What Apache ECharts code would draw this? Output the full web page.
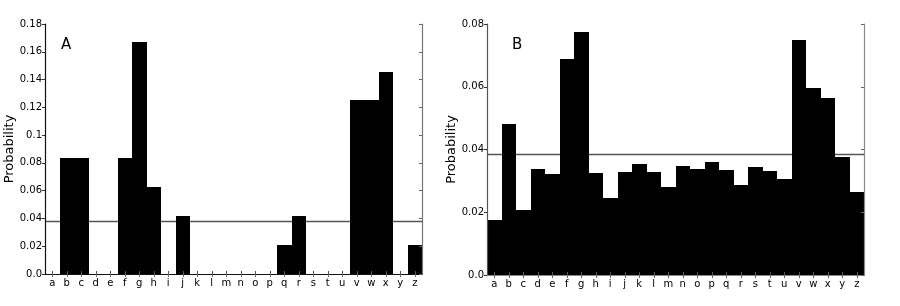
<!DOCTYPE html>
<html>
<head>
<meta charset="utf-8">
<script src="https://cdn.jsdelivr.net/npm/echarts@6/dist/echarts.min.js"></script>
<style>html,body{margin:0;padding:0;background:#fff}#c{width:900px;height:306px}</style>
</head>
<body>
<div id="c"></div>
<script>
const letters = 'abcdefghijklmnopqrstuvwxyz'.split('');
const valuesA = [0, 0.0833, 0.0833, 0, 0, 0.0833, 0.1667, 0.0625, 0, 0.0417, 0, 0, 0, 0, 0, 0, 0.0208, 0.0417, 0, 0, 0, 0.125, 0.125, 0.1458, 0, 0.0208];
const valuesB = [0.0175, 0.0480, 0.0206, 0.0338, 0.0323, 0.0688, 0.0776, 0.0326, 0.0244, 0.0329, 0.0354, 0.0329, 0.0281, 0.0348, 0.0338, 0.0360, 0.0334, 0.0286, 0.0344, 0.0332, 0.0307, 0.0748, 0.0596, 0.0565, 0.0375, 0.0265];
const uniformLevel = 1 / 26;
const yMaxA = 0.18, yMaxB = 0.08, yStep = 0.02;
const panelLabels = ['A', 'B'];
const yName = 'Probability';

const font = 'DejaVu Sans';
const fmt = v => v === 0 ? '0.0' : String(+v.toFixed(2));

function axesFor(gi, max, cols) {
  const x = [
    { gridIndex: gi, type: 'category', data: letters, position: 'bottom', z: 10,
      axisLine: { show: true, lineStyle: { color: cols.bottom, width: 1.2 } },
      axisTick: { show: true, inside: true, length: 3, alignWithLabel: true, lineStyle: { color: '#555' } },
      axisLabel: { fontFamily: font, fontSize: 10, color: '#000', margin: 4, interval: 0 } },
    { gridIndex: gi, type: 'category', data: letters, position: 'top', z: 10,
      axisLine: { show: true, lineStyle: { color: cols.top, width: 1.2 } },
      axisTick: { show: true, inside: true, length: 3, alignWithLabel: true, lineStyle: { color: '#666' } },
      axisLabel: { show: false } }
  ];
  const y = [
    { gridIndex: gi, type: 'value', min: 0, max: max, interval: yStep, position: 'left', z: 10,
      name: yName, nameLocation: 'middle', nameGap: 29, nameRotate: 90,
      nameTextStyle: { fontFamily: font, fontSize: 13, color: '#000' },
      axisLine: { show: true, lineStyle: { color: cols.left, width: 1.2 } },
      axisTick: { show: true, inside: false, length: 3, lineStyle: { color: '#333' } },
      axisLabel: { fontFamily: font, fontSize: 10, color: '#000', margin: 3, formatter: fmt },
      splitLine: { show: false } },
    { gridIndex: gi, type: 'value', min: 0, max: max, interval: yStep, position: 'right', z: 10,
      axisLine: { show: true, lineStyle: { color: cols.right, width: 1.2 } },
      axisTick: { show: true, inside: true, length: 3, lineStyle: { color: '#666' } },
      axisLabel: { show: false }, splitLine: { show: false } }
  ];
  return { x, y };
}

const aAx = axesFor(0, yMaxA, { bottom: '#000', top: '#111', left: '#111', right: '#777' });
const bAx = axesFor(1, yMaxB, { bottom: '#000', top: '#888', left: '#555', right: '#888' });

function renderBar(params, api) {
  const idx = api.value(0);
  const val = api.value(1);
  const top = api.coord([idx, val]);
  const base = api.coord([idx, 0]);
  const w = api.size([1, 0])[0];
  const x0 = Math.round(top[0] - w / 2);
  const x1 = Math.round(top[0] + w / 2);
  const y0 = Math.round(top[1]);
  const y1 = Math.round(base[1]);
  if (y1 - y0 <= 0) return null;
  return {
    type: 'rect',
    shape: { x: x0, y: y0, width: x1 - x0, height: y1 - y0 },
    style: { fill: '#000', stroke: null, opacity: 1 }
  };
}
function barSeries(xi, yi, data) {
  return {
    type: 'custom', xAxisIndex: xi, yAxisIndex: yi, z: 5, silent: true,
    data: data.map((v, i) => [i, v]),
    encode: { x: 0, y: 1 },
    renderItem: renderBar,
    animation: false
  };
}
function renderRefLine(params, api) {
  const cs = params.coordSys;
  const y = Math.round(api.coord([0, api.value(1)])[1]) + 0.5;
  return {
    type: 'line',
    shape: { x1: cs.x, y1: y, x2: cs.x + cs.width, y2: y },
    style: { stroke: '#555', lineWidth: 1.3, fill: null }
  };
}
function refLine(xi, yi) {
  return {
    type: 'custom', xAxisIndex: xi, yAxisIndex: yi, z: 2, silent: true,
    data: [[0, uniformLevel]],
    encode: { x: 0, y: 1 },
    renderItem: renderRefLine,
    animation: false
  };
}

const chart = echarts.init(document.getElementById('c'), null, { renderer: 'canvas' });
chart.setOption({
  animation: false,
  backgroundColor: '#fff',
  grid: [
    { left: 45, right: 478, top: 24, bottom: 32 },
    { left: 487, right: 36, top: 24, bottom: 31 }
  ],
  xAxis: aAx.x.concat(bAx.x),
  yAxis: aAx.y.concat(bAx.y),
  series: [refLine(0, 0), barSeries(0, 0, valuesA), refLine(2, 2), barSeries(2, 2, valuesB)],
  graphic: [
    { type: 'text', left: 61, top: 38, z: 20, style: { text: panelLabels[0], font: '15px "DejaVu Sans"', fill: '#000' } },
    { type: 'text', left: 512, top: 38, z: 20, style: { text: panelLabels[1], font: '15px "DejaVu Sans"', fill: '#000' } }
  ]
});
</script>
</body>
</html>
